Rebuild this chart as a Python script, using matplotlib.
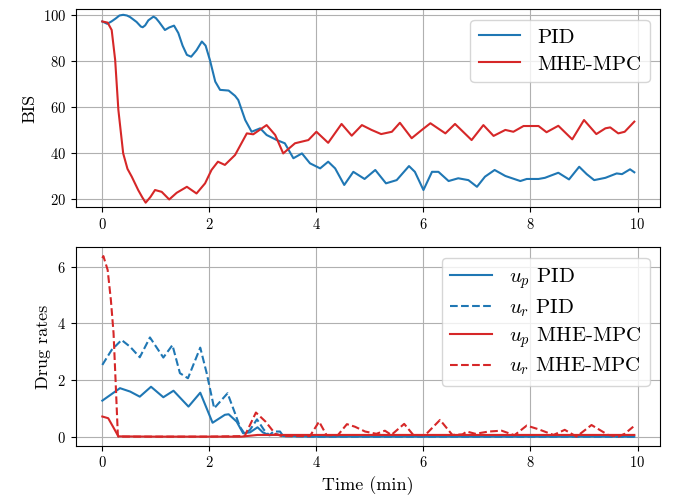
import matplotlib
matplotlib.use("Agg")
import matplotlib.pyplot as plt

plt.rcParams['font.family'] = 'serif'
plt.rcParams['font.serif'] = ['cmr10']
plt.rcParams['mathtext.fontset'] = 'cm'
plt.rcParams['axes.formatter.use_mathtext'] = True
plt.rcParams['axes.unicode_minus'] = False

# ---- BIS data ----
t_bis_pid = [0.0, 0.09, 0.17, 0.25, 0.32, 0.39, 0.46, 0.52, 0.64, 0.72, 0.755, 0.8, 0.86, 0.955, 1.0,
             1.06, 1.17, 1.25, 1.34, 1.42, 1.5, 1.58, 1.66, 1.76, 1.86, 1.93,
             2.01, 2.11, 2.2, 2.36, 2.48, 2.54, 2.67, 2.79, 2.95, 3.07, 3.26, 3.41, 3.57, 3.73, 3.88,
             4.07, 4.22, 4.35, 4.52, 4.69, 4.9, 5.1, 5.3, 5.5, 5.73, 5.84, 6.0, 6.16, 6.28, 6.47,
             6.65, 6.84, 7.0, 7.15, 7.33, 7.53, 7.81, 7.93, 8.15, 8.27, 8.52, 8.72, 8.91, 9.05,
             9.19, 9.4, 9.61, 9.71, 9.86, 9.94]
bis_pid = [97.0, 96.0, 97.0, 98.3, 99.6, 99.9, 99.6, 98.9, 96.8, 94.8, 94.5, 95.3, 97.5, 99.1, 98.5,
           96.8, 93.3, 94.4, 95.2, 92.0, 86.5, 82.5, 81.7, 84.5, 88.3, 86.5,
           80.3, 70.9, 67.3, 67.0, 64.7, 62.9, 54.2, 49.1, 50.6, 47.7, 45.5, 44.1, 37.6, 39.7, 35.4,
           33.2, 36.1, 33.2, 26.0, 31.7, 28.6, 32.5, 26.7, 28.1, 34.2, 31.7, 23.8, 31.7, 31.7, 27.7,
           28.9, 28.1, 25.2, 29.6, 32.5, 29.9, 27.7, 28.6, 28.6, 29.1, 31.3, 28.4, 33.9, 30.7,
           28.1, 29.1, 31.0, 30.7, 32.8, 31.5]

t_bis_mpc = [0.0, 0.1, 0.175, 0.24, 0.3, 0.39, 0.47, 0.55, 0.67, 0.75, 0.81, 0.9, 0.985, 1.11, 1.25,
             1.39, 1.58, 1.76,
             1.92, 2.04, 2.16, 2.29, 2.48, 2.7, 2.82, 3.07, 3.23, 3.38, 3.6, 3.85, 4.0, 4.22, 4.47,
             4.66, 4.85, 5.03, 5.21, 5.41, 5.56, 5.78, 5.97, 6.13, 6.41, 6.59, 6.9, 7.12, 7.31,
             7.53, 7.68, 7.87, 8.15, 8.3, 8.52, 8.78, 9.0, 9.23, 9.4, 9.49, 9.64, 9.76, 9.94]
bis_mpc = [97.0, 96.5, 93.3, 80.3, 58.6, 39.7, 33.0, 29.6, 23.8, 20.5, 18.3, 20.8, 23.8, 23.0, 19.7,
           22.6, 25.2, 22.3,
           26.7, 32.5, 36.1, 34.7, 39.0, 48.4, 48.0, 52.0, 47.7, 39.7, 44.1, 45.5, 49.1, 44.3, 52.5,
           47.4, 52.0, 49.9, 48.1, 49.1, 53.0, 46.3, 49.9, 52.8, 48.4, 52.5, 45.5, 52.0, 47.3,
           49.9, 49.1, 51.6, 51.6, 48.9, 51.7, 45.8, 54.2, 48.1, 50.6, 51.0, 48.4, 49.1, 53.5]

# ---- Drug rate data ----
t_up_pid = [0.0, 0.33, 0.52, 0.7, 0.91, 1.14, 1.33, 1.61, 1.83, 2.06, 2.29, 2.36, 2.51, 2.63, 2.76,
            2.9, 3.0, 3.12, 3.27, 3.38, 4.0, 6.0, 8.0, 9.94]
up_pid = [1.27, 1.71, 1.59, 1.41, 1.76, 1.39, 1.62, 1.06, 1.55, 0.49, 0.77, 0.79, 0.53, 0.12, 0.15,
          0.33, 0.15, 0.05, 0.08, 0.02, 0.0, 0.0, 0.0, 0.0]

t_ur_pid = [0.0, 0.175, 0.36, 0.52, 0.7, 0.89, 1.14, 1.31, 1.45, 1.6, 1.83, 1.95, 2.09, 2.34, 2.48,
            2.57, 2.66, 2.76, 2.89, 3.02, 3.12, 3.2, 3.32, 3.38, 4.0, 6.0, 8.0, 9.94]
ur_pid = [2.53, 3.06, 3.41, 3.17, 2.8, 3.5, 2.79, 3.23, 2.24, 2.06, 3.14, 2.24, 1.0, 1.53, 0.82,
          0.35, 0.1, 0.24, 0.61, 0.24, 0.05, 0.18, 0.18, 0.02, 0.0, 0.0, 0.0, 0.0]

t_up_mpc = [0.0, 0.11, 0.2, 0.25, 0.3, 1.0, 2.0, 2.6, 2.9, 3.2, 4.0, 6.0, 8.0, 9.94]
up_mpc = [0.71, 0.65, 0.35, 0.18, 0.01, 0.0, 0.0, 0.0, 0.06, 0.06, 0.06, 0.06, 0.06, 0.06]

t_ur_mpc = [0.0, 0.02, 0.1, 0.16, 0.21, 0.25, 0.29, 0.3, 1.0, 2.0, 2.66, 2.87, 3.05, 3.23, 3.35,
            3.88, 4.05, 4.19, 4.4, 4.57, 4.72, 4.91, 5.12, 5.28, 5.4, 5.64, 5.81, 6.03, 6.31,
            6.54, 6.73, 6.81, 6.97, 7.22, 7.46, 7.7, 7.93, 8.15, 8.43, 8.64, 8.86, 9.14,
            9.45, 9.64, 9.76, 9.92]
ur_mpc = [6.3, 6.37, 5.88, 4.82, 3.65, 1.88, 0.06, 0.0, 0.0, 0.0, 0.02, 0.85, 0.53, 0.1, 0.02,
          0.02, 0.53, 0.05, 0.05, 0.44, 0.35, 0.18, 0.1, 0.21, 0.06, 0.45, 0.06, 0.05, 0.59,
          0.06, 0.08, 0.18, 0.1, 0.18, 0.21, 0.05, 0.39, 0.26, 0.06, 0.24, 0.0, 0.41,
          0.06, 0.0, 0.1, 0.35]

BLUE = '#1f77b4'
RED = '#d62728'

fig = plt.figure(figsize=(6.73, 4.99), dpi=100)
ax1 = fig.add_axes([0.1125, 0.5846, 0.8682, 0.3968])
ax2 = fig.add_axes([0.1125, 0.1068, 0.8682, 0.3976])

ax1.plot(t_bis_pid, bis_pid, color=BLUE, lw=1.5, label='PID')
ax1.plot(t_bis_mpc, bis_mpc, color=RED, lw=1.5, label='MHE-MPC')
ax1.set_ylabel('BIS', fontsize=13)
ax1.set_ylim(16.3, 102.3)
ax1.set_yticks([20, 40, 60, 80, 100])
ax1.grid(True)
ax1.legend(loc='upper right', fontsize=15, labelspacing=0.4)

ax2.plot(t_up_pid, up_pid, color=BLUE, lw=1.5, ls='-', label=r'$u_p$ PID')
ax2.plot(t_ur_pid, ur_pid, color=BLUE, lw=1.5, ls='--', label=r'$u_r$ PID')
ax2.plot(t_up_mpc, up_mpc, color=RED, lw=1.5, ls='-', label=r'$u_p$ MHE-MPC')
ax2.plot(t_ur_mpc, ur_mpc, color=RED, lw=1.5, ls='--', label=r'$u_r$ MHE-MPC')
ax2.set_ylabel('Drug rates', fontsize=13)
ax2.set_xlabel('Time (min)', fontsize=13)
ax2.set_ylim(-0.32, 6.68)
ax2.set_yticks([0, 2, 4, 6])
ax2.grid(True)
ax2.legend(loc='upper right', fontsize=15, labelspacing=0.3)

for ax in (ax1, ax2):
    ax.set_xlim(-0.497, 10.42)
    ax.set_xticks([0, 2, 4, 6, 8, 10])
    ax.tick_params(labelsize=10.5)

fig.savefig('out.png', dpi=100)
